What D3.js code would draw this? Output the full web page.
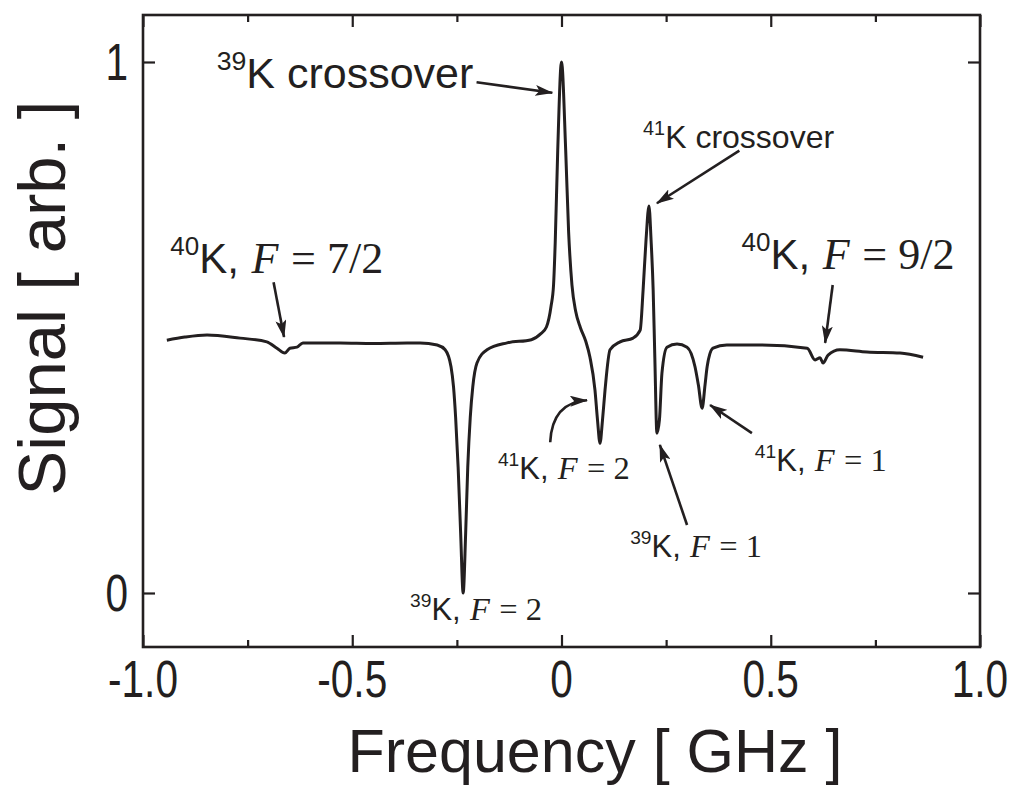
<!DOCTYPE html>
<html>
<head>
<meta charset="utf-8">
<script src="https://cdn.jsdelivr.net/npm/d3@7"></script>
<style>
  html, body { margin:0; padding:0; background:#fff; overflow:hidden; }
  svg { display:block; }
</style>
</head>
<body>
<div id="chart"></div>
<script>
// trace: frequency [GHz] and signal [arb.]
const freq = [-0.943,-0.900,-0.847,-0.768,-0.704,-0.680,-0.661,-0.649,-0.632,-0.618,-0.529,-0.450,-0.369,-0.338,-0.297,-0.278,-0.264,-0.258,-0.253,-0.247,-0.241,-0.235,-0.229,-0.224,-0.218,-0.212,-0.202,-0.178,-0.130,-0.072,-0.050,-0.036,-0.025,-0.019,-0.015,-0.009,0.000,0.010,0.017,0.025,0.034,0.045,0.058,0.068,0.080,0.086,0.092,0.098,0.104,0.116,0.140,0.171,0.188,0.195,0.202,0.209,0.214,0.219,0.223,0.228,0.234,0.240,0.252,0.276,0.300,0.319,0.327,0.336,0.343,0.348,0.362,0.395,0.474,0.587,0.606,0.618,0.625,0.637,0.665,0.730,0.809,0.864]
const signal = [0.476,0.482,0.486,0.480,0.473,0.461,0.452,0.461,0.463,0.471,0.471,0.470,0.471,0.471,0.467,0.458,0.426,0.388,0.331,0.237,0.113,0.000,0.113,0.237,0.331,0.388,0.433,0.458,0.471,0.477,0.488,0.501,0.540,0.580,0.660,0.834,1.000,0.834,0.680,0.580,0.530,0.500,0.474,0.444,0.382,0.326,0.282,0.326,0.382,0.458,0.473,0.480,0.495,0.571,0.665,0.729,0.665,0.571,0.444,0.301,0.326,0.414,0.463,0.469,0.463,0.426,0.392,0.348,0.392,0.426,0.461,0.467,0.467,0.461,0.439,0.443,0.433,0.448,0.458,0.454,0.452,0.444]

const xMajor = [-1.0,-0.5,0,0.5,1.0]
const xMinor = [-0.75,-0.25,0.25,0.75]
const xLabels = ["-1.0","-0.5","0","0.5","1.0"]
const yMajor = [0,1]
const yLabels = ["0","1"]

// annotations: label parts, label anchor (data units), arrow tail -> head (data units)
const notes = [
  {iso:"39", k:"K crossover", f:null, size:43, at:[-0.824,0.951], from:[-0.203,0.962], to:[-0.022,0.942]},
  {iso:"41", k:"K crossover", f:null, size:32, at:[0.195,0.838],  from:[0.425,0.833],  to:[0.228,0.734]},
  {iso:"40", k:"K,", f:"7/2", size:42, at:[-0.935,0.603], from:[-0.688,0.585], to:[-0.663,0.482]},
  {iso:"40", k:"K,", f:"9/2", size:42, at:[0.430,0.611],  from:[0.648,0.580],  to:[0.630,0.471]},
  {iso:"39", k:"K,", f:"2",   size:31, at:[-0.362,-0.051], from:null, to:null},
  {iso:"41", k:"K,", f:"2",   size:31, at:[-0.152,0.215], from:[-0.027,0.284], to:[0.061,0.363], curved:true},
  {iso:"39", k:"K,", f:"1",   size:31, at:[0.164,0.068],  from:[0.300,0.128],  to:[0.235,0.279]},
  {iso:"41", k:"K,", f:"1",   size:31, at:[0.462,0.230],  from:[0.455,0.301],  to:[0.355,0.354]}
]

const width = 1021, height = 789
const margin = {top:15, left:143, right:41, bottom:142}
const innerWidth = width - margin.left - margin.right
const innerHeight = height - margin.top - margin.bottom
const ink = "#231f20"
const sans = "'Liberation Sans', Arial, sans-serif"
const serif = "'Liberation Serif', serif"
const squeeze = 0.78

const svg = d3.select("#chart").append("svg")
  .attr("width", width).attr("height", height)

svg.append("defs").append("marker")
  .attr("id","head").attr("viewBox","0 0 18 11")
  .attr("refX",17).attr("refY",5.5)
  .attr("markerWidth",18).attr("markerHeight",11)
  .attr("markerUnits","userSpaceOnUse").attr("orient","auto")
  .append("path").attr("d","M0,0 L18,5.5 L0,11 L4,5.5 Z").attr("fill",ink)

const g = svg.append("g").attr("transform",`translate(${margin.left},${margin.top})`)

const xScale = d3.scaleLinear().domain([-1,1]).range([0,innerWidth])
const yScale = d3.scaleLinear().domain([-0.1017,1.0885]).range([innerHeight,0])

// ticks (inward, all four sides)
g.append("g").attr("transform",`translate(0,${innerHeight})`)
  .call(d3.axisBottom(xScale).tickValues(xMajor).tickSize(-12).tickFormat(""))
g.append("g").attr("transform",`translate(0,${innerHeight})`)
  .call(d3.axisBottom(xScale).tickValues(xMinor).tickSize(-7).tickFormat(""))
g.append("g").call(d3.axisTop(xScale).tickValues(xMajor).tickSize(-12).tickFormat(""))
g.append("g").call(d3.axisTop(xScale).tickValues(xMinor).tickSize(-7).tickFormat(""))
g.append("g").call(d3.axisLeft(yScale).tickValues(yMajor).tickSize(-12).tickFormat(""))
g.append("g").attr("transform",`translate(${innerWidth},0)`)
  .call(d3.axisRight(yScale).tickValues(yMajor).tickSize(-12).tickFormat(""))

g.selectAll(".domain").remove()
g.selectAll(".tick line").attr("stroke",ink).attr("stroke-width",2.2)

// tick labels, condensed
function condense(sel){
  sel.each(function(){
    let w = this.getComputedTextLength()
    d3.select(this).attr("textLength", w*squeeze).attr("lengthAdjust","spacingAndGlyphs")
  })
}
svg.append("g").selectAll("text").data(xMajor).join("text")
  .attr("x",d=>margin.left + xScale(d)).attr("y",margin.top + innerHeight + 50)
  .attr("text-anchor","middle").attr("font-family",sans).attr("font-size",52).attr("fill",ink)
  .text((d,i)=>xLabels[i]).call(condense)
svg.append("g").selectAll("text").data(yMajor).join("text")
  .attr("x",margin.left - 15).attr("y",d=>margin.top + yScale(d) + 18)
  .attr("text-anchor","end").attr("font-family",sans).attr("font-size",52).attr("fill",ink)
  .text((d,i)=>yLabels[i]).call(condense)

// frame
g.append("rect").attr("width",innerWidth).attr("height",innerHeight)
  .attr("fill","none").attr("stroke",ink).attr("stroke-width",2.6)

// trace
const pts = freq.map((f,i)=>[f,signal[i]])
let line = d3.line().x(d=>xScale(d[0])).y(d=>yScale(d[1])).curve(d3.curveMonotoneX)
g.append("path").attr("d",line(pts)).attr("fill","none")
  .attr("stroke",ink).attr("stroke-width",3).attr("stroke-linejoin","round")

// annotations, each piece its own text laid out left to right
notes.forEach(n=>{
  let fs = n.size
  let x = xScale(n.at[0]), y = yScale(n.at[1])
  let parts = [
    {s:n.iso, fam:sans, size:fs*0.62, dy:-fs*0.42, gap:0},
    {s:n.k, fam:sans, size:fs, dy:0, gap:0}
  ]
  if(n.f){
    parts.push({s:"F", fam:serif, size:fs*1.05, dy:0, italic:true, gap:fs*0.3})
    parts.push({s:"= " + n.f, fam:serif, size:fs*1.05, dy:0, gap:fs*0.3})
  }
  let lab = g.append("g")
  parts.forEach(p=>{
    x += p.gap
    let t = lab.append("text").attr("x",x).attr("y",y + p.dy)
      .attr("fill",ink).attr("font-family",p.fam).attr("font-size",p.size)
      .attr("font-style",p.italic ? "italic" : "normal").text(p.s)
    x += t.node().getComputedTextLength()
  })
  if(n.from){
    let x0 = xScale(n.from[0]), y0 = yScale(n.from[1]), x1 = xScale(n.to[0]), y1 = yScale(n.to[1])
    let d = n.curved ? `M${x0},${y0} Q${x0+2},${y1+2} ${x1},${y1}` : `M${x0},${y0} L${x1},${y1}`
    g.append("path").attr("d",d).attr("fill","none").attr("stroke",ink)
      .attr("stroke-width",2.6).attr("marker-end","url(#head)")
  }
})

// axis titles
svg.append("text").attr("x",595).attr("y",772).attr("text-anchor","middle")
  .attr("font-family",sans).attr("font-size",61).attr("fill",ink)
  .text("Frequency [ GHz ]")
svg.append("text").attr("x",65).attr("y",298)
  .attr("transform","translate(65,298) rotate(-90) translate(-65,-298)")
  .attr("text-anchor","middle")
  .attr("font-family",sans).attr("font-size",67).attr("fill",ink)
  .text("Signal [ arb. ]")
</script>
</body>
</html>
